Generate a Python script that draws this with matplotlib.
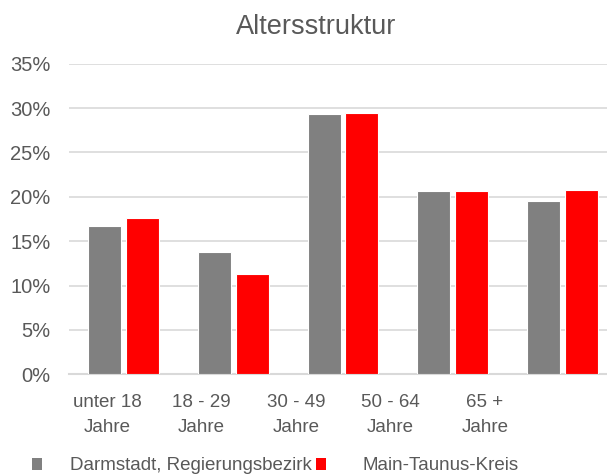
import numpy as np
import matplotlib.pyplot as plt
from matplotlib.patches import Patch

plt.rcParams['font.family'] = ['Liberation Sans', 'DejaVu Sans']

categories = ["unter 18\nJahre", "18 - 29\nJahre", "30 - 49\nJahre", "50 - 64\nJahre", "65 +\nJahre"]
darmstadt = [16.7, 13.8, 29.3, 20.6, 19.5]
mtk = [17.6, 11.3, 29.5, 20.6, 20.8]
series_names = ["Darmstadt, Regierungsbezirk", "Main-Taunus-Kreis"]
yticks = [0, 5, 10, 15, 20, 25, 30, 35]

txt = "#595959"
grid_c = "#D9D9D9"

fig = plt.figure(figsize=(6.07, 4.76), dpi=100)
ax = fig.add_axes([69 / 607, 1 - 374.3 / 476, 548 / 607, (374.3 - 63.7) / 476])

x = np.arange(len(categories))
w = 0.301
off = 0.173
ax.bar(x - off, darmstadt, w, color="#808080", edgecolor="white", linewidth=0.8, zorder=3)
ax.bar(x + off, mtk, w, color="#FF0000", edgecolor="white", linewidth=0.8, zorder=3)

ax.set_xlim(-0.5, len(categories) - 0.5)
ax.set_ylim(0, 35)
ax.set_yticks(yticks)
ax.set_yticklabels([f"{v}%" for v in yticks])
ax.yaxis.grid(True, color=grid_c, linewidth=1.2, zorder=0)
ax.set_axisbelow(True)

# category labels sit a bit left of the bar groups, as in the original
ax.set_xticks(x * 0.862 - 0.153)
ax.set_xticklabels(categories, linespacing=1.6)

for s in ["top", "right", "left"]:
    ax.spines[s].set_visible(False)
ax.spines["bottom"].set_color(grid_c)
ax.spines["bottom"].set_linewidth(1.5)
ax.tick_params(axis="both", length=0, labelsize=13.5, colors=txt)
ax.tick_params(axis="y", pad=13.5, labelsize=14.5)
ax.tick_params(axis="x", pad=14)

fig.text(316.5 / 607, 1 - 27 / 476, "Altersstruktur", ha="center", va="center",
         fontsize=19.5, color=txt)

h1 = Patch(facecolor="#808080", edgecolor="none")
h2 = Patch(facecolor="#FF0000", edgecolor="none")
fig.legend([h1], [series_names[0]], loc="center left", bbox_to_anchor=(32 / 607, 1 - 466 / 476),
           frameon=False, fontsize=13.5, labelcolor=txt, handlelength=0.55, handleheight=0.55,
           handletextpad=1.45, borderpad=0, borderaxespad=0)
fig.legend([h2], [series_names[1]], loc="center left", bbox_to_anchor=(316 / 607, 1 - 466 / 476),
           frameon=False, fontsize=13.5, labelcolor=txt, handlelength=0.55, handleheight=0.55,
           handletextpad=1.95, borderpad=0, borderaxespad=0)

fig.savefig("out.png", dpi=100)
